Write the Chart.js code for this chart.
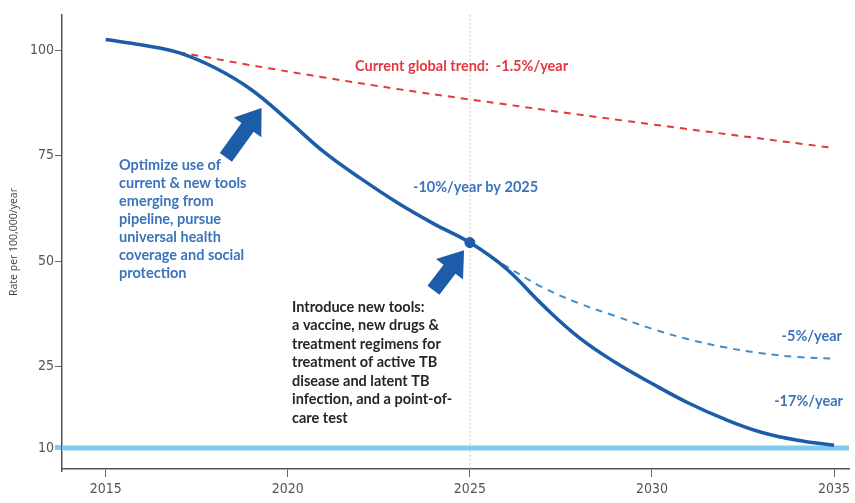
<!DOCTYPE html>
<html>
<head>
<meta charset="utf-8">
<script src="https://cdn.jsdelivr.net/npm/chart.js@4.4.1/dist/chart.umd.min.js"></script>
<style>
  body { margin: 0; background: #fff; }
  #wrap { width: 855px; height: 503px; }
</style>
</head>
<body>
<div id="wrap"><canvas id="chart" width="855" height="503"></canvas></div>
<script>
// values (incidence rate per 100,000/year)
const mainYears = [2015, 2016, 2017, 2018, 2019, 2020, 2021, 2022, 2023, 2024, 2025,
  2026, 2027, 2028, 2029, 2030, 2031, 2032, 2033, 2034, 2035];
const mainRate = [102.5, 101.2, 99.4, 95.8, 90.6, 83.4, 75.8, 69.6, 63.9, 58.9, 54.4,
  48.2, 39.6, 31.9, 26.0, 21.9, 18.3, 15.3, 12.9, 11.4, 10.5];

const trendYears = [2017, 2019, 2021, 2023, 2025, 2030, 2035];
const trendRate = [99.5, 96.4, 93.5, 90.8, 88.3, 82.4, 76.8];

const slowYears = [2025, 2026, 2027, 2028, 2029, 2030, 2031, 2032, 2033, 2034, 2035];
const slowRate = [54.4, 48.8, 43.8, 40, 37, 34, 31.5, 29.6, 28.2, 27.3, 26.9];

const targetYears = [2013.8, 2035.41];
const targetRate = [10, 10];

const markYears = [2025];
const markRate = [54.4];

const xTicks = [2015, 2020, 2025, 2030, 2035];
const yTicks = [10, 25, 50, 75, 100];

const trendLabel = "Current global trend:  -1.5%/year";
const optimizeText = ["Optimize use of", "current & new tools", "emerging from", "pipeline, pursue",
  "universal health", "coverage and social", "protection"];
const introduceText = ["Introduce new tools:", "a vaccine, new drugs &", "treatment regimens for",
  "treatment of active TB", "disease and latent TB", "infection, and a point-of-", "care test"];

const pts = (xs, ys) => xs.map((x, i) => ({ x: x, y: ys[i] }));

// the original y axis is not linear below 25, so use a bent scale
const knotVal = [6.1, 25, 108.3];
const knotDec = [0, 0.2252, 1];
function toDec(v) {
  const i = v < knotVal[1] ? 0 : 1;
  return knotDec[i] + (v - knotVal[i]) / (knotVal[i + 1] - knotVal[i]) * (knotDec[i + 1] - knotDec[i]);
}
function fromDec(d) {
  const i = d < knotDec[1] ? 0 : 1;
  return knotVal[i] + (d - knotDec[i]) / (knotDec[i + 1] - knotDec[i]) * (knotVal[i + 1] - knotVal[i]);
}
class BentScale extends Chart.LinearScale {
  getPixelForValue(v) { return this.getPixelForDecimal(toDec(v)); }
  getValueForPixel(p) { return fromDec(this.getDecimalForPixel(p)); }
}
BentScale.id = "bent";
BentScale.defaults = Chart.LinearScale.defaults;
Chart.register(BentScale);

const DARK = "#1d5ca9";
const TEXT_BLUE = "#3b74bd";
const RED = "#e2383f";
const FONT = "Lato, 'Open Sans', sans-serif";

function arrow(ctx, x0, y0, x1, y1) {
  const a = Math.atan2(y1 - y0, x1 - x0);
  const len = Math.hypot(x1 - x0, y1 - y0);
  ctx.save();
  ctx.translate(x0, y0);
  ctx.rotate(a);
  ctx.beginPath();
  ctx.moveTo(0, -7.5);
  ctx.lineTo(len - 24, -7.5);
  ctx.lineTo(len - 24, -17);
  ctx.lineTo(len, 0);
  ctx.lineTo(len - 24, 17);
  ctx.lineTo(len - 24, 7.5);
  ctx.lineTo(0, 7.5);
  ctx.closePath();
  ctx.fillStyle = DARK;
  ctx.fill();
  ctx.restore();
}

const notes = {
  id: "notes",
  beforeDatasetsDraw(chart) {
    const { ctx, chartArea, scales } = chart;
    const x = scales.x.getPixelForValue(2025);
    ctx.save();
    ctx.strokeStyle = "#b8b8b8";
    ctx.lineWidth = 1;
    ctx.setLineDash([1.5, 2.5]);
    ctx.beginPath();
    ctx.moveTo(x, chartArea.top);
    ctx.lineTo(x, chartArea.bottom);
    ctx.stroke();
    ctx.restore();
  },
  afterDatasetsDraw(chart) {
    const { ctx, scales } = chart;
    const px = v => scales.x.getPixelForValue(v);
    const py = v => scales.y.getPixelForValue(v);

    arrow(ctx, px(2018.3), py(74.6), px(2019.28), py(86.3));
    arrow(ctx, px(2024.0), py(43.1), px(2024.84), py(52.6));

    ctx.save();
    ctx.font = "bold 14.5px " + FONT;
    ctx.textBaseline = "middle";
    ctx.textAlign = "left";

    ctx.fillStyle = RED;
    ctx.fillText(trendLabel, 355, 66);

    ctx.fillStyle = TEXT_BLUE;
    optimizeText.forEach((t, i) => ctx.fillText(t, 119, 165 + i * 18));
    ctx.fillText("-10%/year by 2025", 413, 187);

    ctx.fillStyle = "#262626";
    introduceText.forEach((t, i) => ctx.fillText(t, 292, 307 + i * 18.5));

    ctx.fillStyle = TEXT_BLUE;
    ctx.textAlign = "right";
    ctx.fillText("-5%/year", 842, 336);
    ctx.fillText("-17%/year", 843, 401);
    ctx.restore();
  }
};

new Chart(document.getElementById("chart"), {
  type: "line",
  data: {
    datasets: [
      {
        data: pts(markYears, markRate),
        showLine: false,
        pointRadius: 5,
        pointBackgroundColor: DARK,
        pointBorderColor: DARK
      },
      {
        data: pts(mainYears, mainRate),
        borderColor: DARK,
        borderWidth: 3.5,
        pointRadius: 0,
        tension: 0.4
      },
      {
        data: pts(slowYears, slowRate),
        borderColor: "#3f8fd0",
        borderWidth: 2,
        borderDash: [7, 6],
        pointRadius: 0,
        tension: 0.4
      },
      {
        data: pts(trendYears, trendRate),
        borderColor: RED,
        borderWidth: 2,
        borderDash: [7, 6],
        pointRadius: 0,
        tension: 0.4
      },
      {
        data: pts(targetYears, targetRate),
        borderColor: "#80cdea",
        borderWidth: 5,
        pointRadius: 0
      }
    ]
  },
  options: {
    responsive: false,
    animation: false,
    layout: { padding: { top: 15, right: 0, left: 0, bottom: 0 } },
    plugins: { legend: { display: false }, tooltip: { enabled: false } },
    scales: {
      x: {
        type: "linear",
        min: 2013.8,
        max: 2035.41,
        afterBuildTicks: s => { s.ticks = xTicks.map(v => ({ value: v })); },
        afterFit: s => { s.height = 34; },
        grid: { drawOnChartArea: false, tickLength: 8, color: "#666" },
        border: { color: "#555", width: 1.5 },
        ticks: {
          callback: v => String(v),
          color: "#555",
          padding: 4,
          maxRotation: 0,
          font: { family: "'Liberation Sans Narrow', 'DejaVu Sans Condensed', sans-serif", size: 14 }
        }
      },
      y: {
        type: "bent",
        min: 6.1,
        max: 108.3,
        afterBuildTicks: s => { s.ticks = yTicks.map(v => ({ value: v })); },
        afterFit: s => { s.width = 62; },
        grid: {
          drawOnChartArea: false,
          tickLength: 7,
          color: c => (c.tick && c.tick.value === 10 ? "#80cdea" : "#666"),
          lineWidth: c => (c.tick && c.tick.value === 10 ? 5 : 1)
        },
        border: { color: "#555", width: 1.5 },
        title: {
          display: true,
          text: "Rate per 100,000/year",
          color: "#444",
          padding: { top: 8, bottom: 0 },
          font: { family: "'Open Sans', sans-serif", size: 10.5 }
        },
        ticks: {
          color: "#555",
          padding: 1,
          font: { family: "'Liberation Sans Narrow', 'DejaVu Sans Condensed', sans-serif", size: 14 }
        }
      }
    }
  },
  plugins: [notes]
});
</script>
</body>
</html>
